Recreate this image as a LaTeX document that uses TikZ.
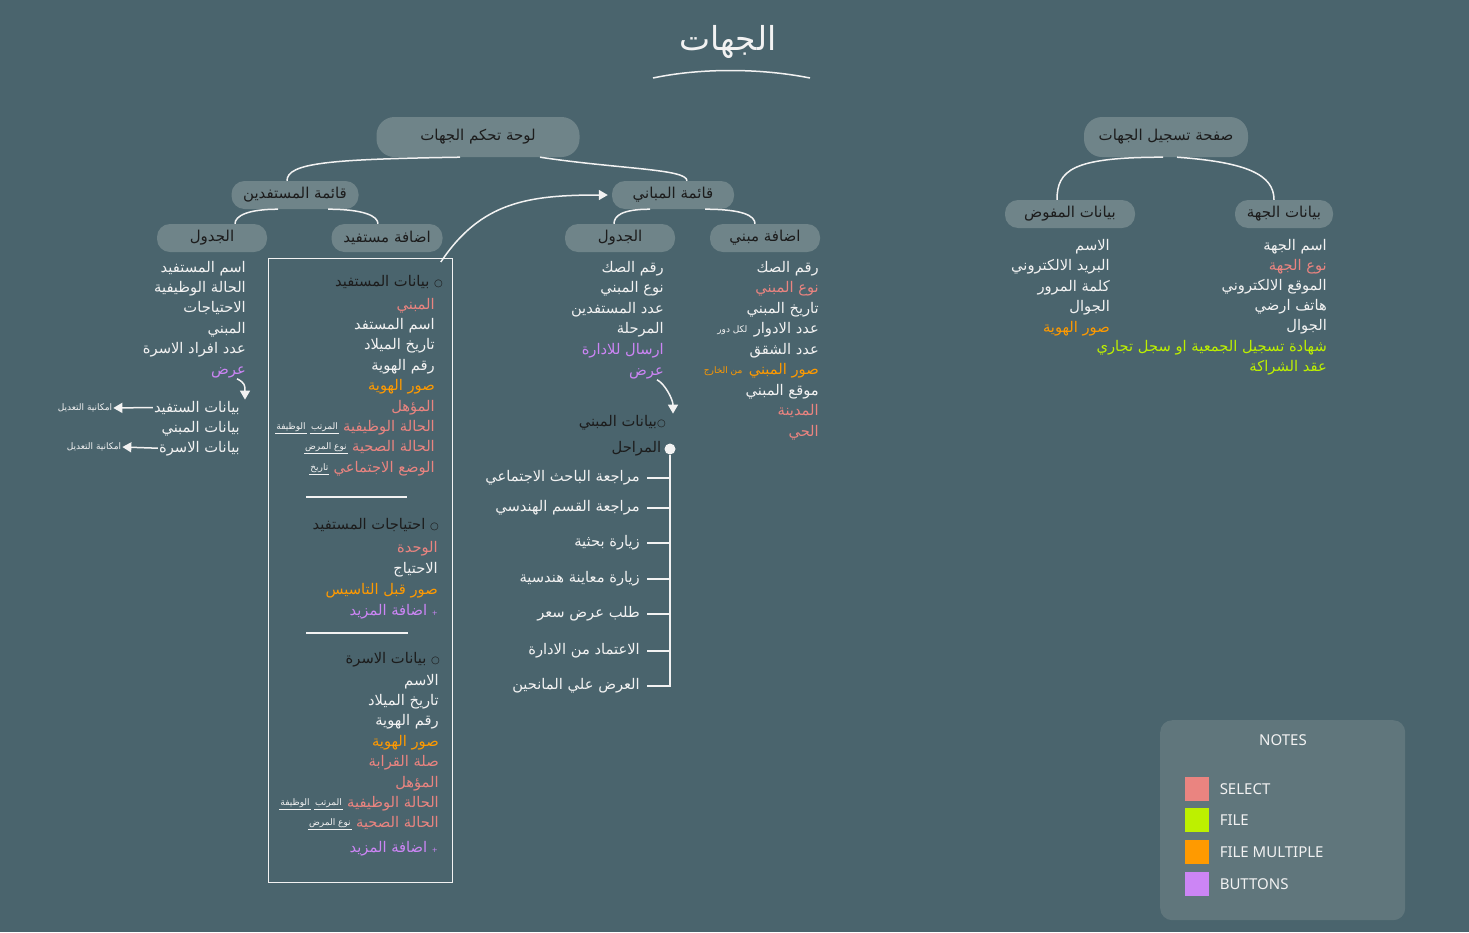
\documentclass[tikz,border=0pt]{standalone}
\usepackage{fontspec}
\setmainfont{Noto Sans}
\newfontfamily\arabicfont[Script=Arabic]{DejaVu Sans}
\TeXXeTstate=1
\usetikzlibrary{positioning, arrows.meta}
\definecolor{bgslate}{HTML}{4A646D}
\definecolor{pillgray}{HTML}{6F8489}
\definecolor{notebox}{HTML}{60767C}
\definecolor{ink}{HTML}{1C1C1C}
\definecolor{wt}{HTML}{F2F2F2}
\definecolor{sl}{HTML}{EA8480}
\definecolor{og}{HTML}{FF9A00}
\definecolor{gr}{HTML}{BDF000}
\definecolor{pu}{HTML}{CC85F5}
\newcommand{\rl}[1]{\beginR #1\endR}

\begin{document}
\begin{tikzpicture}[x=1pt, y=-1pt,
    pill/.style={fill=pillgray, rounded corners=13pt, text=ink, font=\arabicfont\fontsize{15}{17}\selectfont, minimum height=28pt, inner sep=2pt},
    bigpill/.style={pill, rounded corners=18pt, minimum height=40pt},
    lst/.style={font=\arabicfont\fontsize{14.7}{16}\selectfont, inner sep=1pt, anchor=base east},
    hd/.style={lst, text=ink},
    note/.style={font=\arabicfont\fontsize{9}{10}\selectfont, text=wt, inner sep=1pt},
    ul/.style={note, append after command={(\tikzlastnode.south west) edge[draw=wt, line width=0.6pt] (\tikzlastnode.south east)}},
    ln/.style={draw=wt, line width=1.5pt},
    arr/.style={ln, -{Triangle[length=9pt, width=10pt]}}]
  \useasboundingbox (0,0) rectangle (1469,932);
  \fill[bgslate] (0,0) rectangle (1469,932);

  % title
  \node[font=\arabicfont\fontsize{33}{36}\selectfont, text=wt] (ttl) at (728,42) {\rl{الجهات}};
  \draw[ln] (653,78) .. controls (700,68) and (760,68) .. (810,78);

  % pills
  \node[bigpill, minimum width=203pt] (lw) at (478,137) {\rl{لوحة تحكم الجهات}};
  \node[pill, minimum width=127pt] (qs) at (295,195) {\rl{قائمة المستفدين}};
  \node[pill, minimum width=110pt] (jd1) at (212,238) {\rl{الجدول}};
  \node[pill, minimum width=111pt] (am) at (387,238) {\rl{اضافة مستفيد}};
  \node[pill, minimum width=122pt] (qm) at (673,195) {\rl{قائمة المباني}};
  \node[pill, minimum width=110pt] (jd2) at (620,238) {\rl{الجدول}};
  \node[pill, minimum width=110pt] (ab) at (765,238) {\rl{اضافة مبني}};
  \node[bigpill, minimum width=164pt] (sf) at (1166,137) {\rl{صفحة تسجيل الجهات}};
  \node[pill, minimum width=130pt] (bm) at (1070,214) {\rl{بيانات المفوض}};
  \node[pill, minimum width=98pt] (bj) at (1284,214) {\rl{بيانات الجهة}};

  \draw[ln] ([xshift=-18pt]lw.south) .. controls +(-130,2) and +(0,-18) .. ([xshift=-8pt]qs.north);
  \draw[ln] ([xshift=62pt]lw.south) .. controls +(80,12) and +(0,-12) .. ([xshift=14pt]qm.north);
  \draw[ln] ([xshift=-17pt]qs.south) .. controls +(-30,0) and +(0,-8) .. ([xshift=23pt]jd1.north);
  \draw[ln] ([xshift=33pt]qs.south) .. controls +(35,0) and +(0,-8) .. ([xshift=-9pt]am.north);
  \draw[ln] ([xshift=-23pt]qm.south) .. controls +(-28,0) and +(0,-8) .. ([xshift=-6pt]jd2.north);
  \draw[ln] ([xshift=32pt]qm.south) .. controls +(38,0) and +(0,-8) .. ([xshift=-10pt]ab.north);
  \draw[ln] ([xshift=-3pt]sf.south) .. controls +(-90,0) and +(0,-30) .. ([xshift=-13pt]bm.north);
  \draw[ln] ([xshift=11pt]sf.south) .. controls +(70,5) and +(0,-25) .. ([xshift=-10pt]bj.north);

  % beneficiaries table
  \foreach \tx/\cl [count=\i] in {اسم المستفيد/wt, الحالة الوظيفية/wt, الاحتياجات/wt, المبني/wt, عدد افراد الاسرة/wt, عرض/pu}
    \node[lst, text=\cl] (ja\i) at (247,251.6+20.4*\i) {\rl{\tx}};
  \node[lst, text=wt] (vb1) at (241,412) {\rl{بيانات الستفيد}};
  \node[lst, text=wt] (vb2) at (241,432) {\rl{بيانات المبني}};
  \node[lst, text=wt] (vb3) at (241,452) {\rl{بيانات الاسرة}};
  \node[note] (ed1) at (85,408) {\rl{امكانية التعديل}};
  \node[note] (ed2) at (94,447) {\rl{امكانية التعديل}};
  \draw[arr] ([xshift=-10pt]ja6.south east) .. controls +(8,4) and +(0,-14) .. ([xshift=4pt]vb1.north east);
  \draw[arr] (vb1.west) -- (ed1.east);
  \draw[arr] (vb3.west) -- (ed2.east);

  % add beneficiary form
  \node[draw=wt, line width=0.8pt, minimum width=184pt, minimum height=624pt, anchor=north west, inner sep=0] (frm) at (268,258) {};
  \draw[arr] ([xshift=-12pt, yshift=-4pt]frm.north east) .. controls +(40,-60) and +(-80,0) .. ([xshift=-4pt]qm.west);

  \node[hd] (h1) at (444,286) {\rl{{\fontsize{10}{10}\selectfont ○} بيانات المستفيد}};
  \foreach \tx/\cl [count=\i] in {المبني/sl, اسم المستفد/wt, تاريخ الميلاد/wt, رقم الهوية/wt, صور الهوية/og, المؤهل/sl, الحالة الوظيفية/sl, الحالة الصحية/sl, الوضع الاجتماعي/sl}
    \node[lst, text=\cl] (ub\i) at (436,288.6+20.4*\i) {\rl{\tx}};
  \node[ul, left=3pt of ub7] (ub7a) {\rl{المرتب}};
  \node[ul, left=3pt of ub7a] (ub7b) {\rl{الوظيفة}};
  \node[ul, left=3pt of ub8] (ub8a) {\rl{نوع المرض}};
  \node[ul, left=3pt of ub9] (ub9a) {\rl{تاريخ}};
  \draw[ln] (306,497) -- (407,497);

  \node[hd] (h2) at (440,529) {\rl{{\fontsize{10}{10}\selectfont ○} احتياجات المستفيد}};
  \foreach \tx/\cl [count=\i] in {الوحدة/sl, الاحتياج/wt, صور قبل التاسيس/og}
    \node[lst, text=\cl] (uh\i) at (439,531+21*\i) {\rl{\tx}};
  \node[lst, text=pu] (uh4) at (439,615) {\rl{{\scriptsize+}~اضافة المزيد}};
  \draw[ln] (306,633) -- (408,633);

  \node[hd] (h3) at (441,663) {\rl{{\fontsize{10}{10}\selectfont ○} بيانات الاسرة}};
  \foreach \tx/\cl [count=\i] in {الاسم/wt, تاريخ الميلاد/wt, رقم الهوية/wt, صور الهوية/og, صلة القرابة/sl, المؤهل/sl, الحالة الوظيفية/sl, الحالة الصحية/sl}
    \node[lst, text=\cl] (uf\i) at (440,664.6+20.4*\i) {\rl{\tx}};
  \node[lst, text=pu] (uf9) at (439,852) {\rl{{\scriptsize+}~اضافة المزيد}};
  \node[ul, left=3pt of uf7] (uf7a) {\rl{المرتب}};
  \node[ul, left=3pt of uf7a] (uf7b) {\rl{الوظيفة}};
  \node[ul, left=3pt of uf8] (uf8a) {\rl{نوع المرض}};

  % buildings table
  \foreach \tx/\cl [count=\i] in {رقم الصك/wt, نوع المبني/wt, عدد المستفدين/wt, المرحلة/wt, ارسال للادارة/pu, عرض/pu}
    \node[lst, text=\cl] (tb\i) at (665,251.4+20.6*\i) {\rl{\tx}};
  \node[hd] (hb) at (667,426) {\rl{{\fontsize{10}{10}\selectfont ○}بيانات المبني}};
  \draw[arr] ([xshift=-8pt]tb6.south east) .. controls +(8,4) and +(0,-14) .. ([xshift=6pt]hb.north east);

  \node[circle, fill=wt, minimum size=11pt, inner sep=0] (dot) at (670,449) {};
  \node[hd, left=2pt of dot] (mr) {\rl{المراحل}};
  \foreach \tx/\yy [count=\i] in {مراجعة الباحث الاجتماعي/478, مراجعة القسم الهندسي/508, زيارة بحثية/543, زيارة معاينة هندسية/579, طلب عرض سعر/614, الاعتماد من الادارة/651, العرض علي المانحين/686}
  {
    \node[lst, text=wt, anchor=east] (st\i) at (641,\yy) {\rl{\tx}};
    \draw[ln] (st\i.east) ++(6pt,0) -| (dot);
  }

  % add building
  \foreach \tx/\cl [count=\i] in {رقم الصك/wt, نوع المبني/sl, تاريخ المبني/wt, عدد الادوار/wt, عدد الشقق/wt, صور المبني/og, موقع المبني/wt, المدينة/sl, الحي/sl}
    \node[lst, text=\cl] (nb\i) at (820,251.5+20.5*\i) {\rl{\tx}};
  \node[note, left=4pt of nb4] (nb4a) {\rl{لكل دور}};
  \node[note, text=og, left=4pt of nb6] (nb6a) {\rl{من الخارج}};

  % registration
  \foreach \tx/\cl [count=\i] in {الاسم/wt, البريد الالكتروني/wt, كلمة المرور/wt, الجوال/wt, صور الهوية/og}
    \node[lst, text=\cl] (mf\i) at (1111,229.5+20.5*\i) {\rl{\tx}};
  \foreach \tx/\cl [count=\i] in {اسم الجهة/wt, نوع الجهة/sl, الموقع الالكتروني/wt, هاتف ارضي/wt, الجوال/wt, شهادة تسجيل الجمعية او سجل تجاري/gr, عقد الشراكة/gr}
    \node[lst, text=\cl] (jh\i) at (1328,229.8+20.2*\i) {\rl{\tx}};

  % legend
  \node[fill=notebox, rounded corners=12pt, minimum width=245pt, minimum height=200pt, anchor=north west] (leg) at (1160,720) {};
  \node[text=wt, font=\fontsize{15}{17}\selectfont] (nt) at (1283,740) {NOTES};
  \foreach \nm/\cl/\yy [count=\i] in {SELECT/sl/789, FILE/gr/820, FILE MULTIPLE/og/852, BUTTONS/pu/884}
  {
    \node[fill=\cl, minimum size=24pt, inner sep=0] (sq\i) at (1197,\yy) {};
    \node[text=wt, font=\fontsize{15}{17}\selectfont, right=7pt of sq\i] (lb\i) {\nm};
  }
\end{tikzpicture}
\end{document}
